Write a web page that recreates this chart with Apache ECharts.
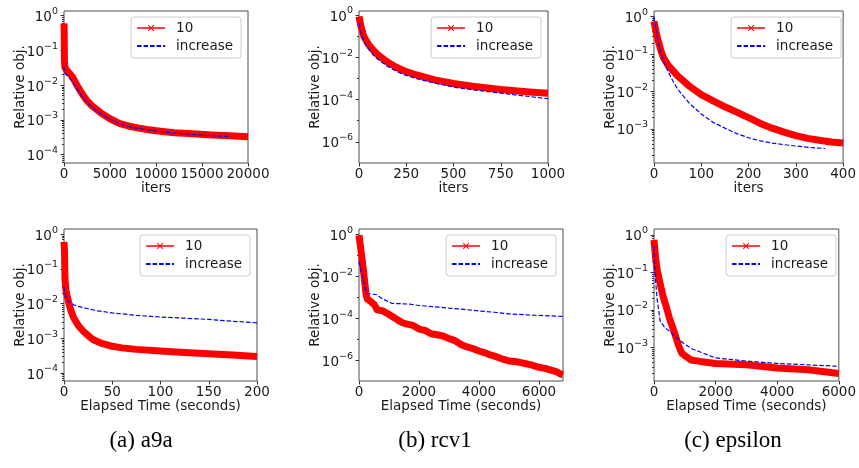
<!DOCTYPE html>
<html><head><meta charset="utf-8">
<script src="https://cdn.jsdelivr.net/npm/echarts@6/dist/echarts.min.js"></script>
<style>html,body{margin:0;padding:0;background:#fff}#c{width:859px;height:468px}</style>
</head><body><div id="c"></div>
<script>
// ---------------- DATA ----------------
const seriesNames = ['10', 'increase'];
const captions = ['(a) a9a', '(b) rcv1', '(c) epsilon'];
const xNames = ['iters', 'iters', 'iters', 'Elapsed Time (seconds)', 'Elapsed Time (seconds)', 'Elapsed Time (seconds)'];
const yName = 'Relative obj.';

// x tick labels
const xTicksA1 = [0, 5000, 10000, 15000, 20000];
const xTicksB1 = [0, 250, 500, 750, 1000];
const xTicksC1 = [0, 100, 200, 300, 400];
const xTicksA2 = [0, 50, 100, 150, 200];
const xTicksB2 = [0, 2000, 4000, 6000];
const xTicksC2 = [0, 2000, 4000, 6000];
// y tick labels (powers of ten)
const yTicks4 = [1, 1e-1, 1e-2, 1e-3, 1e-4];
const yTicksEven = [1, 1e-2, 1e-4, 1e-6];
const yTicks3 = [1, 1e-1, 1e-2, 1e-3];

// (a) a9a, iterations
const a9aIterX10 = [0, 20, 50, 100, 300, 500, 800, 1000, 1500, 2000, 2500, 3000, 4000, 5000, 6000, 7000, 8000, 9000, 10000, 12000, 14000, 16000, 18000, 20000];
const a9aIterY10 = [0.6, 0.4, 0.05, 0.032, 0.027, 0.024, 0.019, 0.016, 0.009, 0.0055, 0.0036, 0.0026, 0.0016, 0.00108, 0.0008, 0.00067, 0.00059, 0.00053, 0.00049, 0.00043, 0.0004, 0.00037, 0.00035, 0.00033];
const a9aIterXInc = [0, 100, 500, 1000, 1500, 2000, 2500, 3000, 4000, 5000, 6000, 7000, 8000, 10000, 12000, 14000, 16000, 17800];
const a9aIterYInc = [0.035, 0.022, 0.017, 0.012, 0.0072, 0.0047, 0.0033, 0.0024, 0.0015, 0.00104, 0.00078, 0.00065, 0.00057, 0.00048, 0.00042, 0.00038, 0.00035, 0.00033];

// (b) rcv1, iterations
const rcv1IterX10 = [0, 10, 25, 50, 75, 100, 150, 200, 250, 300, 400, 500, 600, 750, 900, 1000];
const rcv1IterY10 = [0.85, 0.3, 0.1, 0.04, 0.022, 0.013, 0.006, 0.0033, 0.0021, 0.0015, 0.00085, 0.00058, 0.00043, 0.0003, 0.00023, 0.0002];
const rcv1IterXInc = [0, 10, 25, 50, 75, 100, 150, 200, 250, 300, 400, 500, 600, 750, 900, 1000];
const rcv1IterYInc = [0.4, 0.15, 0.06, 0.025, 0.013, 0.008, 0.0038, 0.0021, 0.0014, 0.001, 0.0006, 0.00039, 0.00029, 0.0002, 0.00014, 0.00011];

// (c) epsilon, iterations
const epsIterX10 = [0, 5, 10, 15, 20, 30, 40, 50, 75, 100, 125, 150, 175, 200, 225, 250, 275, 300, 325, 350, 375, 400];
const epsIterY10 = [0.75, 0.35, 0.2, 0.12, 0.08, 0.05, 0.036, 0.026, 0.0138, 0.0082, 0.0056, 0.0039, 0.0028, 0.002, 0.0014, 0.00105, 0.00082, 0.00066, 0.00056, 0.0005, 0.00045, 0.00042];
const epsIterXInc = [0, 5, 10, 15, 20, 30, 40, 50, 75, 100, 125, 150, 175, 200, 225, 250, 275, 300, 330, 362];
const epsIterYInc = [1.0, 0.4, 0.18, 0.1, 0.065, 0.034, 0.019, 0.0115, 0.0048, 0.0025, 0.0015, 0.00105, 0.00075, 0.00058, 0.00048, 0.00042, 0.00038, 0.00035, 0.00032, 0.0003];

// (a) a9a, time
const a9aTimeX10 = [0, 0.5, 1, 2, 3, 5, 7, 10, 15, 20, 25, 30, 35, 40, 50, 60, 75, 100, 125, 150, 175, 200];
const a9aTimeY10 = [0.6, 0.35, 0.05, 0.025, 0.018, 0.0105, 0.0065, 0.0039, 0.0023, 0.0016, 0.0012, 0.00092, 0.0008, 0.0007, 0.00059, 0.00053, 0.00048, 0.00043, 0.00039, 0.00036, 0.00033, 0.0003];
const a9aTimeXInc = [0, 1, 2, 3, 5, 10, 15, 25, 35, 50, 75, 100, 125, 150, 175, 200];
const a9aTimeYInc = [0.03, 0.02, 0.016, 0.0135, 0.0115, 0.0093, 0.0083, 0.0071, 0.0062, 0.0054, 0.0046, 0.0041, 0.0038, 0.0035, 0.0031, 0.0028];

// (b) rcv1, time
const rcv1TimeX10 = [0, 50, 100, 150, 200, 240, 280, 400, 500, 550, 600, 800, 900, 1000, 1150, 1300, 1450, 1600, 1800, 2000, 2200, 2400, 2600, 2800, 3000, 3200, 3400, 3600, 3800, 4000, 4200, 4400, 4600, 4800, 5000, 5200, 5400, 5600, 5800, 6000, 6200, 6400, 6600, 6700, 6800];
const rcv1TimeY10 = [0.9, 0.25, 0.07, 0.018, 0.004, 0.0012, 0.0008, 0.0006, 0.00045, 0.00035, 0.00025, 0.00022, 0.00018, 0.00015, 0.00011, 8e-5, 6e-5, 5.2e-5, 4.5e-5, 3e-5, 2.6e-5, 1.8e-5, 1.6e-5, 1.4e-5, 1.05e-5, 8.5e-6, 5.5e-6, 4.2e-6, 3.5e-6, 2.7e-6, 2.2e-6, 1.7e-6, 1.4e-6, 1.1e-6, 9e-7, 8.5e-7, 7.5e-7, 6.5e-7, 5.5e-7, 4.5e-7, 4e-7, 3.3e-7, 2.7e-7, 2.2e-7, 2e-7];
const rcv1TimeXInc = [0, 50, 100, 150, 200, 250, 400, 600, 700, 800, 1000, 1100, 1500, 1700, 2000, 2500, 3000, 3500, 4000, 4500, 5000, 5500, 6000, 6800];
const rcv1TimeYInc = [0.05, 0.025, 0.012, 0.006, 0.003, 0.0015, 0.0014, 0.0013, 0.001, 0.0008, 0.0006, 0.0005, 0.00048, 0.00046, 0.0004, 0.00035, 0.0003, 0.00026, 0.00022, 0.00019, 0.00016, 0.000145, 0.000135, 0.00012];

// (c) epsilon, time
const epsTimeX10 = [0, 50, 100, 200, 300, 400, 500, 600, 700, 800, 900, 1000, 1200, 1500, 2000, 3000, 4000, 5000, 6000];
const epsTimeY10 = [0.74, 0.25, 0.12, 0.05, 0.022, 0.012, 0.006, 0.0035, 0.002, 0.0011, 0.0007, 0.0006, 0.00046, 0.00042, 0.00037, 0.00034, 0.00028, 0.00025, 0.0002];
const epsTimeXInc = [0, 30, 100, 200, 350, 500, 700, 900, 1000, 1250, 1500, 1800, 2000, 3000, 4000, 5000, 6000];
const epsTimeYInc = [0.5, 0.1, 0.02, 0.005, 0.0034, 0.0027, 0.0019, 0.0014, 0.0012, 0.0009, 0.00075, 0.0006, 0.00052, 0.00043, 0.00037, 0.00034, 0.00031];

// ---------------- LAYOUT ----------------
const W = 859;
const grids = [
  { left: 64, top: 11, width: 184, height: 152 },
  { left: 359, top: 11, width: 189, height: 152 },
  { left: 654, top: 11, width: 194, height: 152 },
  { left: 64, top: 229, width: 193, height: 152 },
  { left: 359, top: 229, width: 204, height: 152 },
  { left: 654, top: 229, width: 189, height: 152 }
];
const panels = [
  { x10: a9aIterX10, y10: a9aIterY10, xi: a9aIterXInc, yi: a9aIterYInc, xMax: 20000, xTicks: xTicksA1, yTicks: yTicks4, yLog: [-4.24, 0.135], minorEvery: 1 },
  { x10: rcv1IterX10, y10: rcv1IterY10, xi: rcv1IterXInc, yi: rcv1IterYInc, xMax: 1000, xTicks: xTicksB1, yTicks: yTicksEven, yLog: [-7.0, 0.19], minorEvery: 2 },
  { x10: epsIterX10, y10: epsIterY10, xi: epsIterXInc, yi: epsIterYInc, xMax: 400, xTicks: xTicksC1, yTicks: yTicks3, yLog: [-3.91, 0.15], minorEvery: 1 },
  { x10: a9aTimeX10, y10: a9aTimeY10, xi: a9aTimeXInc, yi: a9aTimeYInc, xMax: 200, xTicks: xTicksA2, yTicks: yTicks4, yLog: [-4.23, 0.15], minorEvery: 1 },
  { x10: rcv1TimeX10, y10: rcv1TimeY10, xi: rcv1TimeXInc, yi: rcv1TimeYInc, xMax: 6800, xTicks: xTicksB2, yTicks: yTicksEven, yLog: [-7.0, 0.25], minorEvery: 2 },
  { x10: epsTimeX10, y10: epsTimeY10, xi: epsTimeXInc, yi: epsTimeYInc, xMax: 6000, xTicks: xTicksC2, yTicks: yTicks3, yLog: [-3.9, 0.16], minorEvery: 1 }
];

const FONT = 'DejaVu Sans';
const TXT = '#1a1a1a';
const FS = 13.5;
const xShape = 'path://M1,0 L5,4 L9,0 L10,1 L6,5 L10,9 L9,10 L5,6 L1,10 L0,9 L4,5 L0,1 Z';

function supLabel(v) {
  const e = Math.round(Math.log10(v));
  const s = e < 0 ? '\u2212' + (-e) : String(e);
  return '{b|10}{s|' + s + '}';
}
const rich = {
  b: { fontFamily: FONT, fontSize: FS, color: TXT, verticalAlign: 'bottom', lineHeight: 18 },
  s: { fontFamily: FONT, fontSize: 9.5, color: TXT, verticalAlign: 'top', lineHeight: 11 }
};

function minorTicks(p) {
  const lo = Math.pow(10, p.yLog[0]), hi = Math.pow(10, p.yLog[1]);
  const out = [];
  for (let d = Math.floor(p.yLog[0]); d <= Math.ceil(p.yLog[1]); d++) {
    if (p.minorEvery === 1) {
      for (let k = 2; k <= 9; k++) {
        const v = k * Math.pow(10, d);
        if (v > lo && v < hi) out.push(v);
      }
    } else if (d % 2 !== 0) {
      const v = Math.pow(10, d);
      if (v > lo && v < hi) out.push(v);
    }
  }
  return out;
}

const option = {
  animation: false,
  backgroundColor: '#fff',
  grid: [], xAxis: [], yAxis: [], series: [], legend: [], graphic: []
};

panels.forEach((p, i) => {
  const g = grids[i];
  option.grid.push({ left: g.left, top: g.top, width: g.width, height: g.height, show: true, borderColor: '#4d4d4d', borderWidth: 1, backgroundColor: 'transparent' });
  option.xAxis.push({
    type: 'value', gridIndex: i, min: 0, max: p.xMax, position: 'bottom',
    name: xNames[i], nameLocation: 'middle', nameGap: 18, nameMoveOverlap: false,
    nameTextStyle: { fontFamily: FONT, fontSize: FS, color: TXT },
    axisLine: { show: false },
    axisTick: { show: true, length: 3.5, lineStyle: { color: '#333' }, customValues: p.xTicks },
    axisLabel: { customValues: p.xTicks, formatter: v => String(v), showMaxLabel: true, showMinLabel: true, fontFamily: FONT, fontSize: FS, color: TXT, margin: 4, hideOverlap: false },
    splitLine: { show: false }
  });
  const yMin = Math.pow(10, p.yLog[0]), yMax = Math.pow(10, p.yLog[1]);
  option.yAxis.push({
    type: 'log', logBase: 10, gridIndex: i, min: yMin, max: yMax, position: 'left', offset: 0,
    name: yName, nameLocation: 'middle', nameGap: 37, nameRotate: 90, nameMoveOverlap: false,
    nameTextStyle: { fontFamily: FONT, fontSize: FS, color: TXT },
    axisLine: { show: false },
    axisTick: { show: true, length: 3.5, lineStyle: { color: '#333' }, customValues: p.yTicks },
    axisLabel: { customValues: p.yTicks, formatter: supLabel, rich: rich, margin: 6 },
    splitLine: { show: false }
  });
  option.yAxis.push({
    type: 'log', logBase: 10, gridIndex: i, min: yMin, max: yMax, position: 'left', offset: 0,
    axisLine: { show: false },
    axisTick: { show: true, length: 2, lineStyle: { color: '#333' }, customValues: minorTicks(p) },
    axisLabel: { show: false },
    splitLine: { show: false }
  });
  const yIdx = option.yAxis.length - 2;
  option.series.push({
    name: seriesNames[0], type: 'line', xAxisIndex: i, yAxisIndex: yIdx,
    data: p.x10.map((x, k) => [x, p.y10[k]]),
    symbol: xShape, symbolSize: 6, showSymbol: false,
    itemStyle: { color: '#ff0000' },
    lineStyle: { color: '#ff0000', width: 7, join: 'round', cap: 'butt' },
    clip: true, z: 2
  });
  option.series.push({
    name: seriesNames[1], type: 'line', xAxisIndex: i, yAxisIndex: yIdx,
    data: p.xi.map((x, k) => [x, p.yi[k]]),
    symbol: 'none', showSymbol: false,
    itemStyle: { color: '#0000ff' },
    lineStyle: { color: '#0000ff', width: 1.2, type: [4.5, 2] },
    clip: true, z: 3
  });
  option.legend.push({
    right: W - (g.left + g.width - 7), top: g.top + 6,
    orient: 'vertical', itemWidth: 28, itemHeight: 8, itemGap: 4,
    padding: [4, 8, 5, 5],
    backgroundColor: '#fff', borderColor: '#cccccc', borderWidth: 1, borderRadius: 3,
    selectedMode: false,
    textStyle: { fontFamily: FONT, fontSize: FS, color: TXT, padding: [0, 0, 0, 6] },
    data: [
      { name: seriesNames[0], lineStyle: { width: 1.5 } },
      { name: seriesNames[1], itemStyle: { opacity: 0 } }
    ]
  });
});

const capX = [141, 435, 733];
captions.forEach((c, i) => {
  option.graphic.push({
    type: 'text', x: capX[i], y: 441,
    style: { text: c, fontFamily: 'Liberation Serif', fontSize: 23, fill: '#000', textAlign: 'center', textVerticalAlign: 'middle' }
  });
});

const chart = echarts.init(document.getElementById('c'), null, { renderer: 'canvas' });
chart.setOption(option);
</script>
</body></html>
